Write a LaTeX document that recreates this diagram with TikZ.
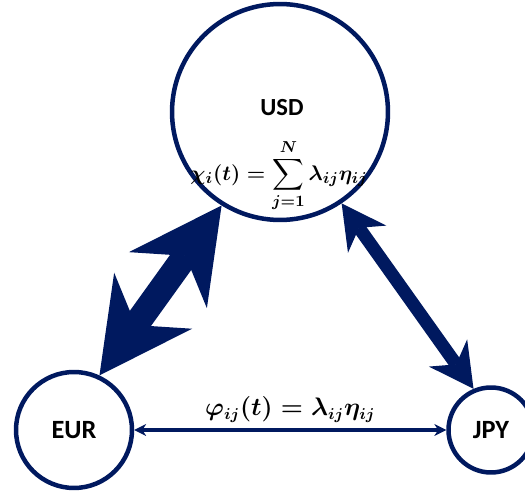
\documentclass[tikz,border=0pt]{standalone}
\definecolor{fxnavy}{RGB}{0, 25, 95}
\usepackage{fontspec}
\setmainfont{Carlito}
\usepackage{tikz}
\usetikzlibrary{shapes, arrows.meta, positioning, calc}
\usepackage{amsmath, amssymb}

\begin{document}
\begin{tikzpicture}[
  x=0.02cm, y=-0.02cm,
  cur/.style={draw=fxnavy, circle, line width=0.09cm, inner sep=0pt, font=\fontsize{15}{17}\selectfont\bfseries},
  fatlink/.style={draw=fxnavy, line width=0.52cm,
    {Stealth[length=1.84cm, width=1.92cm, inset=0.6cm, line width=0pt]}-{Stealth[length=1.84cm, width=1.92cm, inset=0.6cm, line width=0pt]}},
  midlink/.style={draw=fxnavy, line width=0.26cm,
    {Stealth[length=0.88cm, width=0.94cm, inset=0.28cm, line width=0pt]}-{Stealth[length=0.88cm, width=0.94cm, inset=0.28cm, line width=0pt]}},
  thinlink/.style={draw=fxnavy, line width=0.08cm,
    {Stealth[length=0.24cm, width=0.24cm, line width=0pt]}-{Stealth[length=0.24cm, width=0.24cm, line width=0pt]}},
  formula/.style={font=\fontsize{13.5}{16}\selectfont\boldmath, inner sep=1pt}
]
  \useasboundingbox (0,0) rectangle (525,493);
  \node[cur, minimum size=4.32cm] (usd) at (280,112) {};
  \node[cur, minimum size=2.32cm] (eur) at (74,430) {EUR};
  \node[cur, minimum size=1.70cm] (jpy) at (491,430) {JPY};
  \node[font=\fontsize{14}{16}\selectfont\bfseries, inner sep=0pt] (usdname) at (282,108) {USD};
  \node[formula, inner sep=0pt, font=\fontsize{12.5}{15}\selectfont\boldmath] (usdrate) at (279,176) {$\chi_i(t) = \displaystyle\sum_{j=1}^{N} \lambda_{ij}\eta_{ij}$};
  \draw[fatlink] (eur.65) -- (usd.238);
  \draw[midlink] (usd.304) -- (jpy.113);
  \draw[thinlink] (eur) -- (jpy) node[formula, midway, above=2pt] (cross) {$\varphi_{ij}(t) = \lambda_{ij}\eta_{ij}$};
\end{tikzpicture}
\end{document}
